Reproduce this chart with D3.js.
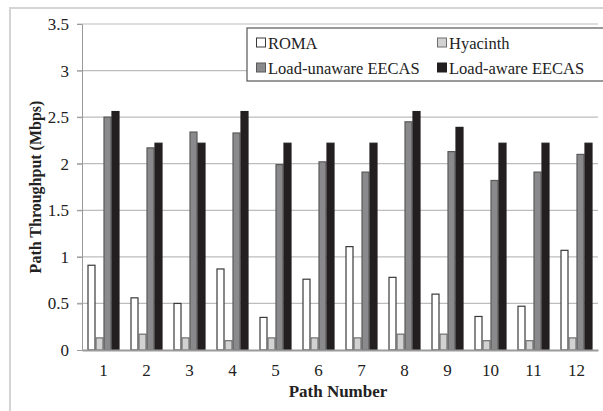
<!DOCTYPE html>
<html>
<head>
<meta charset="utf-8">
<script src="https://cdn.jsdelivr.net/npm/d3@7"></script>
<style>
  body { margin: 0; background: #fff; }
  svg { display: block; font-family: "Liberation Serif", "Times New Roman", serif; }
</style>
</head>
<body>
<div id="chart"></div>
<script>
// data
var paths = ["1","2","3","4","5","6","7","8","9","10","11","12"];
var seriesNames = ["ROMA", "Hyacinth", "Load-unaware EECAS", "Load-aware EECAS"];
var roma      = [0.91, 0.56, 0.50, 0.87, 0.35, 0.76, 1.11, 0.78, 0.60, 0.36, 0.47, 1.07];
var hyacinth  = [0.13, 0.17, 0.13, 0.10, 0.13, 0.13, 0.13, 0.17, 0.17, 0.10, 0.10, 0.13];
var unaware   = [2.50, 2.17, 2.34, 2.33, 1.99, 2.02, 1.91, 2.45, 2.13, 1.82, 1.91, 2.10];
var aware     = [2.56, 2.22, 2.22, 2.56, 2.22, 2.22, 2.22, 2.56, 2.39, 2.22, 2.22, 2.22];
var yTicks = [0, 0.5, 1, 1.5, 2, 2.5, 3, 3.5];

var values = [roma, hyacinth, unaware, aware];
var fills   = ["#ffffff", "#d2d2d2", "#8a8a8c", "#231f20"];
var strokes = ["#3a3a3a", "#6e6e6e", "#5a5a5a", "#231f20"];

var width = 603, height = 411;
var margin = {top: 24, right: 5, bottom: 61, left: 82};

var svg = d3.select("#chart")
    .append("svg")
    .attr("width", width)
    .attr("height", height);

// outer frame
svg.append("rect")
    .attr("x", 10).attr("y", 8)
    .attr("width", 620).attr("height", 420)
    .attr("fill", "none")
    .attr("stroke", "#d4d4d4")
    .attr("stroke-width", 2);

var x = d3.scaleBand()
    .domain(paths)
    .range([margin.left, width - margin.right]);

var xs = d3.scaleBand()
    .domain(seriesNames)
    .range([0, 32]);

var y = d3.scaleLinear()
    .domain([0, 3.5])
    .range([height - margin.bottom, margin.top]);

// grid
svg.append("g")
    .selectAll("line")
    .data(yTicks.slice(1))
    .join("line")
    .attr("x1", margin.left - 5)
    .attr("x2", width - margin.right)
    .attr("y1", d => y(d))
    .attr("y2", d => y(d))
    .attr("stroke", "#bdbdbd")
    .attr("stroke-width", 1.2);

// y axis
var yAxis = svg.append("g")
    .attr("transform", `translate(${margin.left},0)`)
    .call(d3.axisLeft(y).tickValues(yTicks).tickSize(5).tickFormat(d3.format("")));
yAxis.select(".domain").attr("stroke", "#9a9a9a");
yAxis.selectAll(".tick line").attr("stroke", "#9a9a9a");
yAxis.selectAll(".tick text")
    .attr("x", -13)
    .attr("font-size", 17)
    .attr("font-family", "Liberation Serif")
    .attr("fill", "#222");

// bars
var groups = svg.append("g")
    .selectAll("g")
    .data(seriesNames)
    .join("g");

groups.selectAll("rect")
    .data((s, si) => paths.map((p, i) => ({path: p, series: s, si: si, value: values[si][i]})))
    .join("rect")
    .attr("x", d => x(d.path) + (x.bandwidth() - 32) / 2 + xs(d.series) + 0.5)
    .attr("y", d => y(d.value))
    .attr("width", xs.bandwidth() - 1)
    .attr("height", d => y(0) - y(d.value))
    .attr("fill", d => fills[d.si])
    .attr("stroke", d => strokes[d.si])
    .attr("stroke-width", 1.2);

// x axis
var xAxis = svg.append("g")
    .attr("transform", `translate(0,${y(0)})`)
    .call(d3.axisBottom(x).tickSize(0).tickSizeOuter(0));
xAxis.select(".domain").attr("stroke", "#9a9a9a").attr("stroke-width", 2);
xAxis.selectAll(".tick text")
    .attr("dy", "1.35em")
    .attr("font-size", 17)
    .attr("font-family", "Liberation Serif")
    .attr("fill", "#222");

// axis titles
svg.append("text")
    .attr("x", 338)
    .attr("y", 397)
    .attr("text-anchor", "middle")
    .attr("font-weight", "bold")
    .attr("font-size", 17)
    .attr("fill", "#222")
    .text("Path Number");

svg.append("text")
    .attr("transform", `translate(41,${(margin.top + height - margin.bottom) / 2}) rotate(-90)`)
    .attr("text-anchor", "middle")
    .attr("font-weight", "bold")
    .attr("font-size", 16)
    .attr("fill", "#222")
    .text("Path Throughput (Mbps)");

// legend
var legend = svg.append("g");
legend.append("rect")
    .attr("x", 247).attr("y", 28)
    .attr("width", 360).attr("height", 53)
    .attr("fill", "#fff")
    .attr("stroke", "#555")
    .attr("stroke-width", 1.2);

var legPos = [[256, 43], [437, 43], [256, 68], [437, 68]];
var item = legend.selectAll(".item")
    .data(seriesNames)
    .join("g")
    .attr("class", "item")
    .attr("transform", (d, i) => `translate(${legPos[i][0]},${legPos[i][1]})`);
item.append("rect")
    .attr("x", 0.5).attr("y", -5)
    .attr("width", 9).attr("height", 9)
    .attr("fill", (d, i) => fills[i])
    .attr("stroke", (d, i) => strokes[i]);
item.append("text")
    .attr("x", 12)
    .attr("y", 5.5)
    .attr("font-size", 16.5)
    .attr("fill", "#222")
    .text(d => d);
</script>
</body>
</html>
